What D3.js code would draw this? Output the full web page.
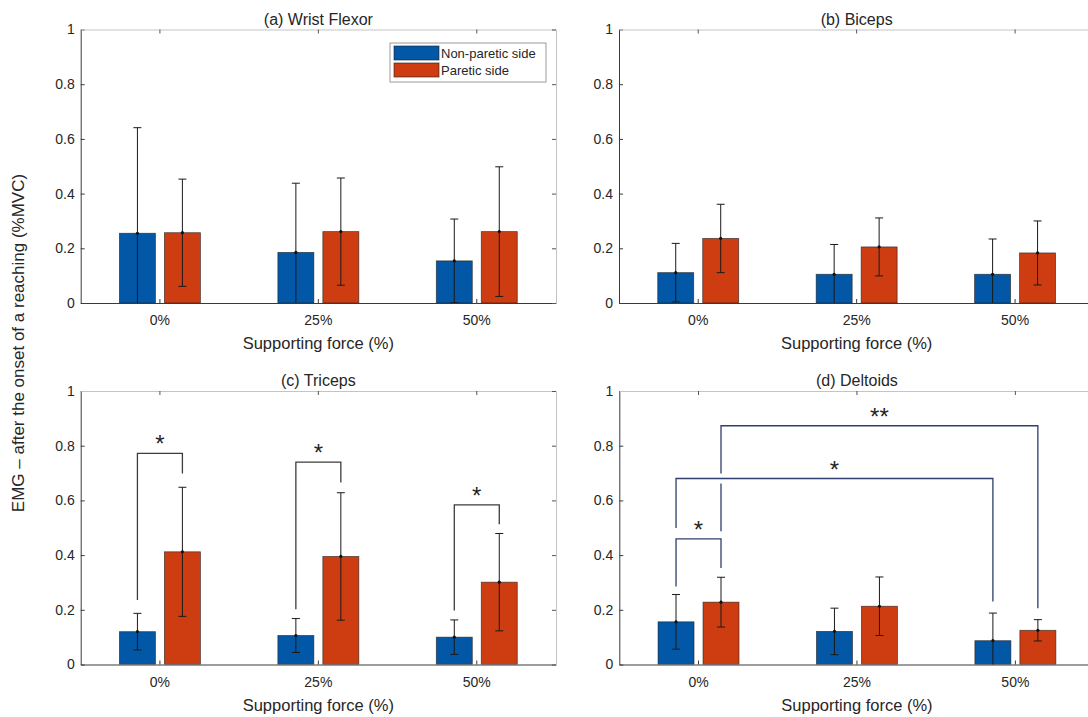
<!DOCTYPE html>
<html>
<head>
<meta charset="utf-8">
<script src="https://cdn.jsdelivr.net/npm/d3@7"></script>
<style>
  body { margin: 0; background: #fff; }
  text { font-family: "Liberation Sans", Arial, Helvetica, sans-serif; fill: #262626; }
</style>
</head>
<body>
<svg id="chart" width="1088" height="717"></svg>
<script>
var categories = ["0%", "25%", "50%"];
var sides = ["Non-paretic side", "Paretic side"];
var titles = ["(a) Wrist Flexor", "(b) Biceps", "(c) Triceps", "(d) Deltoids"];
var yTicks = [0, 0.2, 0.4, 0.6, 0.8, 1];

// mean and SD
var wristNonParetic = [0.255, 0.185, 0.154];
var wristNonPareticSD = [0.386, 0.253, 0.153];
var wristParetic = [0.257, 0.261, 0.261];
var wristPareticSD = [0.196, 0.196, 0.237];

var bicepsNonParetic = [0.111, 0.105, 0.105];
var bicepsNonPareticSD = [0.107, 0.109, 0.129];
var bicepsParetic = [0.236, 0.205, 0.183];
var bicepsPareticSD = [0.125, 0.106, 0.117];

var tricepsNonParetic = [0.120, 0.106, 0.100];
var tricepsNonPareticSD = [0.067, 0.062, 0.063];
var tricepsParetic = [0.412, 0.395, 0.301];
var tricepsPareticSD = [0.236, 0.233, 0.178];

var deltoidsNonParetic = [0.156, 0.121, 0.087];
var deltoidsNonPareticSD = [0.100, 0.085, 0.101];
var deltoidsParetic = [0.228, 0.213, 0.125];
var deltoidsPareticSD = [0.091, 0.107, 0.039];

// significance brackets: [category, side] ends, bar top, leg ends (data units)
var tricepsBrackets = [
  { from: [0, 0], to: [0, 1], top: 0.772, low1: 0.236, low2: 0.698, label: "*" },
  { from: [1, 0], to: [1, 1], top: 0.740, low1: 0.202, low2: 0.665, label: "*" },
  { from: [2, 0], to: [2, 1], top: 0.584, low1: 0.197, low2: 0.513, label: "*" }
];
var deltoidsBrackets = [
  { from: [0, 1], to: [2, 1], top: 0.873, low1: 0.487, low2: 0.206, label: "**" },
  { from: [0, 0], to: [0, 1], top: 0.459, low1: 0.285, low2: 0.353, label: "*" },
  { from: [0, 0], to: [2, 0], top: 0.680, low1: 0.499, low2: 0.230, label: "*" }
];

var colors = ["#0357a7", "#ce3d12"];

var muscles = [
  { title: titles[0], mean: [wristNonParetic, wristParetic], sd: [wristNonPareticSD, wristPareticSD], brackets: [], legend: true },
  { title: titles[1], mean: [bicepsNonParetic, bicepsParetic], sd: [bicepsNonPareticSD, bicepsPareticSD], brackets: [] },
  { title: titles[2], mean: [tricepsNonParetic, tricepsParetic], sd: [tricepsNonPareticSD, tricepsPareticSD], brackets: tricepsBrackets, bracketColor: "#3c3c3c" },
  { title: titles[3], mean: [deltoidsNonParetic, deltoidsParetic], sd: [deltoidsNonPareticSD, deltoidsPareticSD], brackets: deltoidsBrackets, bracketColor: "#2f3e6c" }
];

var svg = d3.select("#chart");
svg.append("rect").attr("width", 1088).attr("height", 717).attr("fill", "#fff");

var boxes = [
  { left: 80.7, top: 29.5 },
  { left: 619, top: 29.5 },
  { left: 80.7, top: 391 },
  { left: 619.3, top: 391 }
];
var width = 475.3, height = 273.5;

var x = d3.scaleBand().domain(categories).range([0, width]);
var bw = x.bandwidth();
var xSub = d3.scaleBand().domain(sides).range([-0.2555 * bw, 0.2555 * bw]).paddingInner(0.2);
var y = d3.scaleLinear().domain([0, 1]).range([height, 0]);

function cx(cat, side) {
  return x(categories[cat]) + bw / 2 + xSub(sides[side]) + xSub.bandwidth() / 2;
}

muscles.forEach(function (m, i) {
  var b = boxes[i];
  var g = svg.append("g").attr("transform", "translate(" + b.left + "," + b.top + ")");

  g.append("clipPath").attr("id", "clip" + i)
    .append("rect").attr("width", width).attr("height", height);

  var plot = g.append("g").attr("clip-path", "url(#clip" + i + ")");

  // flatten into one row per bar
  var rows = [];
  sides.forEach(function (s, si) {
    categories.forEach(function (c, ci) {
      rows.push({ cat: ci, side: si, mean: m.mean[si][ci], sd: m.sd[si][ci] });
    });
  });

  plot.selectAll("rect.bar").data(rows).enter().append("rect")
    .attr("class", "bar")
    .attr("x", function (d) { return x(categories[d.cat]) + bw / 2 + xSub(sides[d.side]); })
    .attr("width", xSub.bandwidth())
    .attr("y", function (d) { return y(d.mean); })
    .attr("height", function (d) { return height - y(d.mean); })
    .attr("fill", function (d) { return colors[d.side]; })
    .attr("stroke", "#1e1e1e")
    .attr("stroke-opacity", 0.7)
    .attr("stroke-width", 0.8);

  // error bars
  var eb = plot.selectAll("g.err").data(rows).enter().append("g").attr("class", "err")
    .attr("stroke", "#1a1a1a").attr("stroke-width", 1);
  eb.append("line")
    .attr("x1", function (d) { return cx(d.cat, d.side); })
    .attr("x2", function (d) { return cx(d.cat, d.side); })
    .attr("y1", function (d) { return y(d.mean - d.sd); })
    .attr("y2", function (d) { return y(d.mean + d.sd); });
  [-1, 1].forEach(function (k) {
    eb.append("line")
      .attr("x1", function (d) { return cx(d.cat, d.side) - 4; })
      .attr("x2", function (d) { return cx(d.cat, d.side) + 4; })
      .attr("y1", function (d) { return y(d.mean + k * d.sd); })
      .attr("y2", function (d) { return y(d.mean + k * d.sd); });
  });
  plot.selectAll("circle.dot").data(rows).enter().append("circle")
    .attr("class", "dot")
    .attr("cx", function (d) { return cx(d.cat, d.side); })
    .attr("cy", function (d) { return y(d.mean); })
    .attr("r", 1.6)
    .attr("fill", "#111");

  // axes, ticks inward like matlab
  var ax = g.append("g").attr("transform", "translate(0," + height + ")")
    .call(d3.axisBottom(x).tickSizeInner(-4).tickSizeOuter(0).tickPadding(12.5));
  var ay = g.append("g")
    .call(d3.axisLeft(y).tickValues(yTicks).tickFormat(d3.format("~g")).tickSizeInner(-4).tickSizeOuter(0).tickPadding(6));
  var at = g.append("g")
    .call(d3.axisTop(x).tickSizeInner(-4).tickSizeOuter(0).tickFormat(""));
  var ar = g.append("g").attr("transform", "translate(" + width + ",0)")
    .call(d3.axisRight(y).tickValues(yTicks).tickFormat("").tickSizeInner(-4).tickSizeOuter(0));
  [ax, ay].forEach(function (a) {
    a.select(".domain").attr("stroke", "#3a3a3a");
    a.selectAll(".tick line").attr("stroke", "#3a3a3a");
    a.selectAll("text").attr("font-size", 14).attr("fill", "#262626")
      .style("font-family", "'Liberation Sans', Arial, sans-serif");
  });
  [at, ar].forEach(function (a) {
    a.select(".domain").attr("stroke", "#c4c4c4");
    a.selectAll(".tick line").attr("stroke", "#555");
  });

  g.append("text")
    .attr("x", width / 2).attr("y", -5)
    .attr("text-anchor", "middle").attr("font-size", 16)
    .text(m.title);

  g.append("text")
    .attr("x", width / 2).attr("y", height + 46)
    .attr("text-anchor", "middle").attr("font-size", 16.5)
    .text("Supporting force (%)");

  // significance brackets
  m.brackets.forEach(function (br, bi) {
    var x1 = cx(br.from[0], br.from[1]), x2 = cx(br.to[0], br.to[1]);
    g.append("path")
      .attr("d", "M" + x1 + "," + y(br.low1) + "V" + y(br.top) + "H" + x2 + "V" + y(br.low2))
      .attr("fill", "none").attr("stroke", m.bracketColor).attr("stroke-width", 1.3);
    // small white gap where a leg passes under a later bracket
    if (i === 3 && bi === 0) {
      g.append("rect").attr("x", x1 - 2).attr("y", y(deltoidsBrackets[2].top) - 5)
        .attr("width", 4).attr("height", 10).attr("fill", "#fff");
    }
    g.append("text")
      .attr("x", (x1 + x2) / 2).attr("y", y(br.top) - 1)
      .attr("text-anchor", "middle").attr("font-size", 24).attr("fill", "#111")
      .text(br.label);
  });

  if (m.legend) {
    var lg = g.append("g").attr("transform", "translate(" + (width - 166) + ",13.5)");
    lg.append("rect").attr("width", 156).attr("height", 39)
      .attr("fill", "#fff").attr("stroke", "#9a9a9a").attr("stroke-width", 1);
    sides.forEach(function (s, si) {
      lg.append("rect").attr("x", 4).attr("y", 3 + si * 17).attr("width", 45).attr("height", 14)
        .attr("fill", colors[si]).attr("stroke", "#1e1e1e").attr("stroke-opacity", 0.6);
      lg.append("text").attr("x", 51).attr("y", 15 + si * 17)
        .attr("font-size", 13).attr("fill", "#111").text(s);
    });
  }
});

svg.append("text")
  .attr("transform", "translate(24,343)rotate(-90)")
  .attr("text-anchor", "middle").attr("font-size", 17)
  .text("EMG \u2013 after the onset of a reaching (%MVC)");
</script>
</body>
</html>
